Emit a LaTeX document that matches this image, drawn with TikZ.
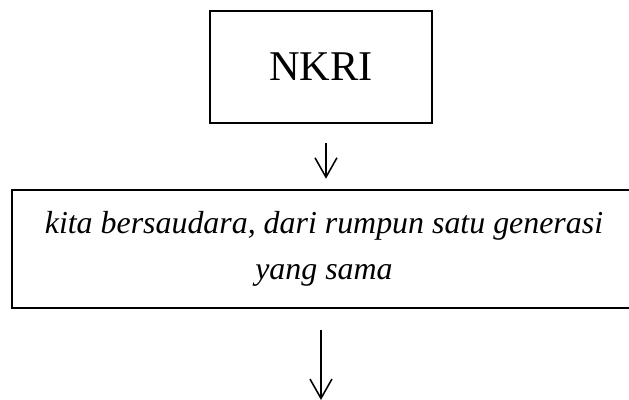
\documentclass[tikz,border=0pt]{standalone}
\usepackage{fontspec}
\setmainfont{Liberation Serif}
\usepackage{tikz}
\usetikzlibrary{shapes,arrows,arrows.meta}
\tikzstyle{kotak}=[draw, line width=1pt, inner sep=0pt, align=center]
\tikzstyle{panah}=[line width=0.6pt, -{Straight Barb[length=7.5pt, width=8.5pt, line width=0.6pt]}]

\begin{document}
\begin{tikzpicture}
\useasboundingbox (0,0) rectangle (8.558,-5.429);
\node[kotak, minimum width=3.020cm, minimum height=1.524cm, font=\fontsize{16.4}{19}\selectfont] (nkri) at (4.367,-0.912) {NKRI};
\node[kotak, minimum width=8.49cm, minimum height=1.605cm, font=\fontsize{12.35}{18}\selectfont\itshape] (ide) at (4.408,-3.388) {kita bersaudara, dari rumpun satu generasi\\yang sama};
\coordinate (ujung) at (4.367,-5.442);
\draw[panah, shorten <=0.258cm, shorten >=0.136cm] ([xshift=0.068cm]nkri.south) -- ([xshift=0.068cm]nkri.south |- ide.north);
\draw[panah, shorten <=0.286cm] (ide.south -| ujung) -- (ujung);
\end{tikzpicture}
\end{document}
